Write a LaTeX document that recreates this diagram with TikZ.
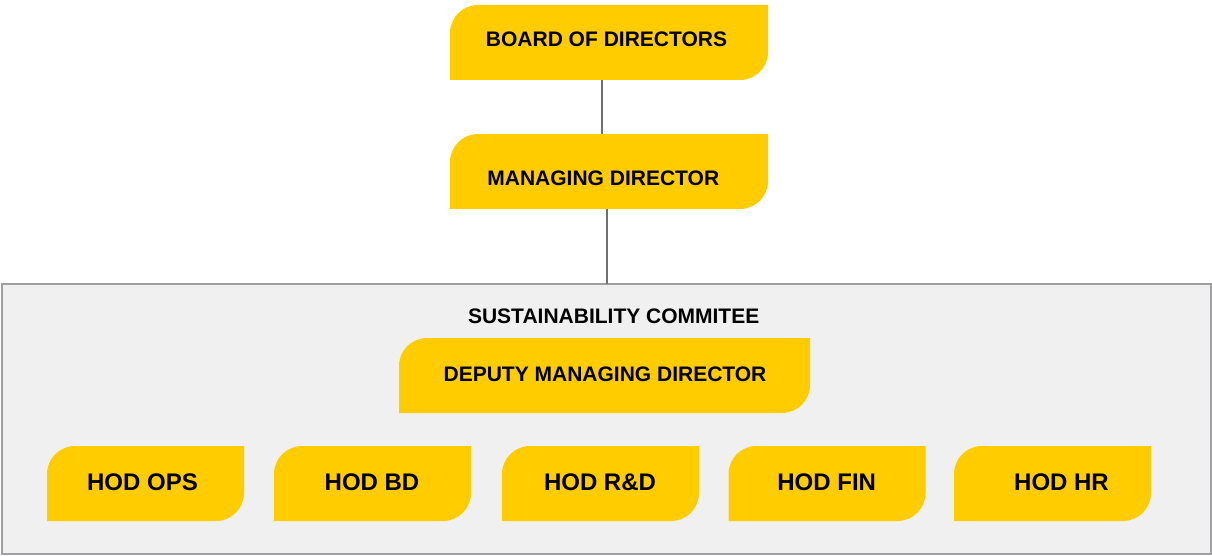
\documentclass[tikz,border=0pt]{standalone}
\usepackage{fontspec}
\setmainfont{Liberation Sans}
\definecolor{gold}{HTML}{FFCC00}
\definecolor{panel}{HTML}{F0F0F0}
\definecolor{panelline}{HTML}{A0A0A4}
\definecolor{linkgray}{HTML}{707070}
\pgfdeclarelayer{bg}
\pgfdeclarelayer{mid}
\pgfsetlayers{bg,mid,main}
\newcommand\leafshape[1]{%
  \begin{pgfonlayer}{mid}
  \fill[gold] (#1.south west) -- ([yshift=-28pt]#1.north west)
    arc[start angle=180,end angle=90,radius=28pt] -- (#1.north east)
    -- ([yshift=28pt]#1.south east)
    arc[start angle=0,end angle=-90,radius=28pt] -- cycle;
  \end{pgfonlayer}}
\tikzset{
  leaf/.style={inner sep=0pt, outer sep=0pt, minimum height=75pt},
  toplabel/.style={anchor=base, inner sep=0pt, font=\bfseries\fontsize{21}{25}\selectfont},
  hodlabel/.style={anchor=base, inner sep=0pt, font=\bfseries\fontsize{24}{28}\selectfont},
  link/.style={draw=linkgray, line width=2.2pt}
}
\begin{document}
\begin{tikzpicture}[x=1pt,y=1pt]
\useasboundingbox (0,0) rectangle (1212,555);
% container
\node[inner sep=0pt, outer sep=0pt, minimum width=1209pt, minimum height=270pt] (sc) at (606.5,136) {};
\begin{pgfonlayer}{bg}
\draw[panelline, fill=panel, line width=2pt] (sc.south west) rectangle (sc.north east);
\end{pgfonlayer}
% boxes
\node[leaf, minimum width=318pt] (bod) at (609,512.5) {};
\node[leaf, minimum width=318pt] (md) at (609,383.5) {};
\node[leaf, minimum width=411pt] (dmd) at (604.5,179.5) {};
\node[leaf, minimum width=197pt] (ops) at (145.5,71.5) {};
\node[leaf, minimum width=197pt] (bd) at (372.5,71.5) {};
\node[leaf, minimum width=197pt] (rd) at (600.5,71.5) {};
\node[leaf, minimum width=197pt] (fin) at (827,71.5) {};
\node[leaf, minimum width=197pt] (hr) at (1052.5,71.5) {};
\leafshape{bod}\leafshape{md}\leafshape{dmd}
\leafshape{ops}\leafshape{bd}\leafshape{rd}\leafshape{fin}\leafshape{hr}
% labels
\node[toplabel] (bodt) at (606.5,508.3) {BOARD OF DIRECTORS};
\node[toplabel] (mdt) at (603.3,369.3) {MANAGING DIRECTOR};
\node[toplabel] (sct) at (613.7,231.5) {SUSTAINABILITY COMMITEE};
\node[toplabel] (dmdt) at (605,174) {DEPUTY MANAGING DIRECTOR};
\node[hodlabel] (opst) at (142.5,65) {HOD OPS};
\node[hodlabel] (bdt) at (372,65) {HOD BD};
\node[hodlabel] (rdt) at (600,65) {HOD R\&D};
\node[hodlabel] (fint) at (826.7,65) {HOD FIN};
\node[hodlabel] (hrt) at (1061.5,65) {HOD HR};
% connectors
\begin{pgfonlayer}{bg}
\draw[link] ([xshift=-7pt]bod.south) -- ([xshift=-7pt]md.north);
\draw[link] ([xshift=-2pt]md.south) -- ([xshift=-2pt]md.south |- sc.north);
\end{pgfonlayer}
\end{tikzpicture}
\end{document}
